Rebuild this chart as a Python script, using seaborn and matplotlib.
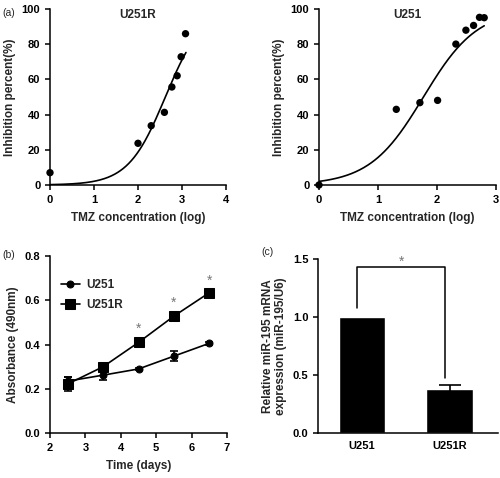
import numpy as np
import seaborn as sns
import matplotlib.pyplot as plt

# (a) TMZ dose-response
u251r_log_dose = [0, 2.0, 2.3, 2.6, 2.77, 2.89, 2.98, 3.08]
u251r_inhib = [7, 23.7, 33.7, 41.3, 55.7, 62.1, 72.9, 86]
u251_log_dose = [0, 1.31, 1.71, 2.01, 2.32, 2.49, 2.62, 2.72, 2.80]
u251_inhib = [0, 43, 46.8, 48.1, 80.1, 88, 90.7, 95.3, 95.1]

# fitted Hill curves: (logEC50, hill slope, last x drawn)
u251r_fit = (2.62, 1.03, 3.09)
u251_fit = (1.77, 0.95, 2.80)

# (b) absorbance over time
days = [2.5, 3.5, 4.5, 5.5, 6.5]
u251_abs = [0.235, 0.262, 0.29, 0.348, 0.406]
u251_abs_err = [0.02, 0.024, 0.005, 0.024, 0.006]
u251r_abs = [0.222, 0.30, 0.41, 0.529, 0.635]
u251r_abs_err = [0.032, 0.01, 0.018, 0.01, 0.01]
star_days = [4.5, 5.5, 6.5]
star_y = [0.47, 0.59, 0.69]

# (c) relative miR-195 expression
cell_lines = ['U251', 'U251R']
mir195 = [1.0, 0.38]
mir195_err = [0.0, 0.035]

sns.set_style('ticks')
plt.rcParams['font.family'] = ['Liberation Sans', 'DejaVu Sans']
plt.rcParams['font.weight'] = 'bold'
plt.rcParams['axes.labelweight'] = 'bold'
plt.rcParams['axes.linewidth'] = 1.1
plt.rcParams['xtick.major.width'] = 1.1
plt.rcParams['ytick.major.width'] = 1.1
plt.rcParams['xtick.major.size'] = 3.5
plt.rcParams['ytick.major.size'] = 3.5
plt.rcParams['xtick.labelsize'] = 8
plt.rcParams['ytick.labelsize'] = 8
plt.rcParams['axes.labelsize'] = 8.5
plt.rcParams['xtick.color'] = 'black'
plt.rcParams['ytick.color'] = 'black'
plt.rcParams['axes.edgecolor'] = 'black'

fig = plt.figure(figsize=(5, 4.78), dpi=100)


def style_axis(ax):
    sns.despine(ax=ax)
    for lab in ax.get_xticklabels() + ax.get_yticklabels():
        lab.set_fontweight('bold')


def dose_panel(ax, doses, inhib, fit, title, xmax):
    ec50, slope, xend = fit
    xs = np.linspace(0, xend, 200)
    ys = 100 / (1 + 10 ** ((ec50 - xs) * slope))
    sns.lineplot(x=xs, y=ys, ax=ax, color='black', lw=1.2)
    sns.scatterplot(x=doses, y=inhib, ax=ax, color='black', s=28,
                    edgecolor='none', clip_on=False, zorder=3)
    ax.set_xlim(0, xmax)
    ax.set_ylim(0, 100)
    ax.set_xticks(range(xmax + 1))
    ax.set_yticks(range(0, 101, 20))
    ax.set_xlabel('TMZ concentration (log)', labelpad=5)
    ax.set_ylabel('Inhibition percent(%)', labelpad=4)
    ax.text(0.5, 0.965, title, transform=ax.transAxes, ha='center',
            va='center', fontsize=8.5, fontweight='bold')
    style_axis(ax)


ax1 = fig.add_axes([0.1, 0.613, 0.352, 0.368])
dose_panel(ax1, u251r_log_dose, u251r_inhib, u251r_fit, 'U251R', 4)

ax2 = fig.add_axes([0.638, 0.613, 0.354, 0.368])
dose_panel(ax2, u251_log_dose, u251_inhib, u251_fit, 'U251', 3)

# (b)
ax3 = fig.add_axes([0.1, 0.094, 0.354, 0.370])
sns.lineplot(x=days, y=u251_abs, ax=ax3, color='black', lw=1.2,
             marker='o', markersize=5, markeredgecolor='black', label='U251')
sns.lineplot(x=days, y=u251r_abs, ax=ax3, color='black', lw=1.2,
             marker='s', markersize=6.5, markeredgecolor='black', label='U251R')
ax3.errorbar(days, u251_abs, yerr=u251_abs_err, fmt='none', ecolor='black',
             elinewidth=1.2, capsize=3, capthick=1.2)
ax3.errorbar(days, u251r_abs, yerr=u251r_abs_err, fmt='none', ecolor='black',
             elinewidth=1.2, capsize=3, capthick=1.2)
for d, y in zip(star_days, star_y):
    ax3.text(d, y, '*', ha='center', va='center', fontsize=10,
             color='#777777', fontweight='normal')
ax3.set_xlim(2, 7)
ax3.set_ylim(0, 0.8)
ax3.set_yticks([0, 0.2, 0.4, 0.6, 0.8])
ax3.set_yticklabels(['0.0', '0.2', '0.4', '0.6', '0.8'])
ax3.set_xlabel('Time (days)', labelpad=5)
ax3.set_ylabel('Absorbance (490nm)', labelpad=4)
leg = ax3.legend(loc='upper left', bbox_to_anchor=(0.0, 0.93), frameon=False,
                 handlelength=1.6, handletextpad=0.6, labelspacing=0.65,
                 prop={'weight': 'bold', 'size': 8.5})
style_axis(ax3)

# (c)
ax4 = fig.add_axes([0.636, 0.094, 0.36, 0.364])
sns.barplot(x=cell_lines, y=mir195, ax=ax4, color='black', width=0.53,
            errorbar=None, saturation=1)
ax4.errorbar([1], [mir195[1]], yerr=[mir195_err[1]], fmt='none',
             ecolor='black', elinewidth=1.2, capsize=8, capthick=1.2)
ax4.plot([-0.06, -0.06, 0.95, 0.95], [1.08, 1.43, 1.43, 0.475],
         color='black', lw=1.1)
ax4.text(0.45, 1.48, '*', ha='center', va='center', fontsize=10,
         color='#777777', fontweight='normal')
ax4.set_xlim(-0.5, 1.55)
ax4.set_ylim(0, 1.5)
ax4.set_yticks([0, 0.5, 1.0, 1.5])
ax4.set_yticklabels(['0.0', '0.5', '1.0', '1.5'])
ax4.tick_params(axis='x', length=0, pad=6)
ax4.set_ylabel('Relative miR-195 mRNA\nexpression (miR-195/U6)',
               labelpad=4, linespacing=1.1)
ax4.set_xlabel('')
style_axis(ax4)

# panel letters
fig.text(0.004, 0.972, '(a)', fontsize=7.5, fontweight='normal', va='center')
fig.text(0.004, 0.467, '(b)', fontsize=7.5, fontweight='normal', va='center')
fig.text(0.522, 0.473, '(c)', fontsize=7.5, fontweight='normal', va='center')

fig.savefig('out.png', dpi=100)
